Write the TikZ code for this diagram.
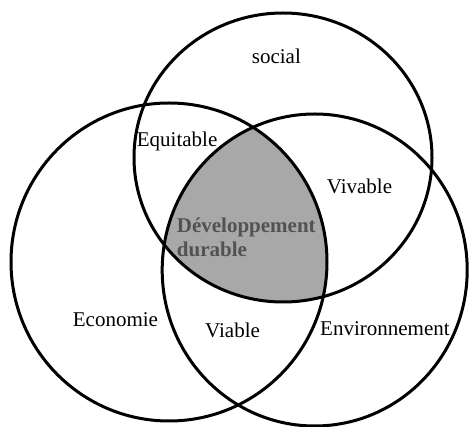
\documentclass[tikz,border=0pt]{standalone}
\usepackage{fontspec}
\setmainfont{Liberation Serif}
\begin{document}
\begin{tikzpicture}[x=1pt,y=-1pt,
  ring/.style={draw=black,line width=3pt},
  lbl/.style={inner sep=0pt,anchor=base west,font=\fontsize{21}{25}\selectfont},
  core/.style={lbl,font=\fontsize{21}{25}\selectfont\bfseries,text=black!68}]
\useasboundingbox (0,0) rectangle (469,427);
\def\soc{(283,157.5) ellipse [x radius=149pt, y radius=144.5pt]}
\def\eco{(169,262) ellipse [x radius=158pt, y radius=159pt]}
\def\env{(314.7,270) ellipse [x radius=152.5pt, y radius=156pt]}
\begin{scope}
  \clip \soc;
  \clip \eco;
  \fill[black!34] \env;
\end{scope}
\draw[ring] \soc;
\draw[ring] \eco;
\draw[ring] \env;
\node[lbl] (social) at (251.7,64) {social};
\node[lbl] (equit) at (136.7,146.5) {Equitable};
\node[lbl] (vivab) at (326.7,194) {Vivable};
\node[core] (dev) at (176.7,233) {Développement};
\node[core] (dur) at (176.7,257) {durable};
\node[lbl] (eco) at (72.7,327) {Economie};
\node[lbl] (viab) at (205,338) {Viable};
\node[lbl] (env) at (320,336) {Environnement};
\end{tikzpicture}
\end{document}
